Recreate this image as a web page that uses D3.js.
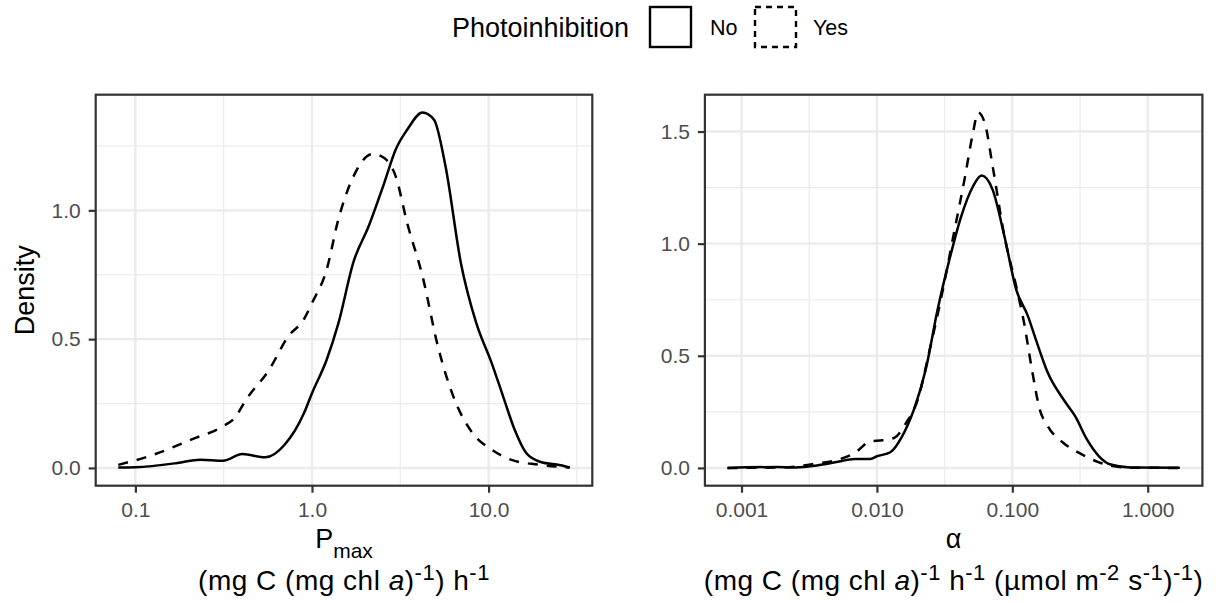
<!DOCTYPE html>
<html lang="en">
<head>
<meta charset="UTF-8">
<title>Photoinhibition density</title>
<script src="https://cdn.jsdelivr.net/npm/d3@7"></script>
<style>
  body{margin:0;background:#fff;}
  svg{display:block;font-family:"Liberation Sans",Arial,Helvetica,sans-serif;}
  .axis .domain{display:none;}
  .axis .tick line{stroke:#333;stroke-width:2.2;}
  .axis .tick text{fill:#4d4d4d;font-size:21px;}
</style>
</head>
<body>
<svg width="1216" height="603"></svg>
<script>
// ---- data ----
// Pmax panel (x in mg C (mg chl a)^-1 h^-1)
var pmaxNoX  = [0.08, 0.1, 0.1726, 0.2328, 0.314, 0.4036, 0.5445, 0.6998, 0.8974, 1.0, 1.211, 1.409, 1.718, 2.099, 2.564, 2.979, 3.459, 4.227, 4.909, 5.702, 6.966, 8.511, 10.4, 12.08, 14.03, 16.33, 19.91, 24.32, 28.8];
var pmaxNoY  = [0.002, 0.003, 0.019, 0.032, 0.028, 0.054, 0.041, 0.09, 0.21, 0.29, 0.42, 0.56, 0.80, 0.94, 1.106, 1.236, 1.313, 1.38, 1.352, 1.171, 0.796, 0.563, 0.408, 0.278, 0.149, 0.058, 0.022, 0.013, 0.002];
var pmaxYesX = [0.08, 0.1276, 0.2104, 0.314, 0.3648, 0.4236, 0.5728, 0.7345, 0.8974, 1.0, 1.211, 1.409, 1.718, 2.208, 2.564, 2.979, 3.459, 4.227, 5.164, 6.31, 8.091, 10.4, 13.34, 18.97, 28.8];
var pmaxYesY = [0.012, 0.052, 0.112, 0.162, 0.194, 0.265, 0.382, 0.511, 0.576, 0.64, 0.77, 0.964, 1.132, 1.219, 1.203, 1.132, 0.951, 0.744, 0.472, 0.278, 0.136, 0.071, 0.032, 0.013, 0.002];
var pmaxTicks = [0.1, 1, 10];

// alpha panel
var alphaNoX  = [0.000788, 0.001803, 0.002518, 0.003524, 0.00492, 0.006871, 0.008974, 0.01, 0.01256, 0.01535, 0.01875, 0.02291, 0.02805, 0.03428, 0.04188, 0.05117, 0.05929, 0.07161, 0.0875, 0.1069, 0.1306, 0.1493, 0.1828, 0.2388, 0.2917, 0.3565, 0.4365, 0.5333, 0.7447, 1.725];
var alphaNoY  = [0, 0.004, 0.002, 0.01, 0.025, 0.04, 0.04, 0.052, 0.07, 0.141, 0.26, 0.438, 0.705, 0.928, 1.121, 1.255, 1.304, 1.24, 1.032, 0.795, 0.676, 0.572, 0.424, 0.305, 0.23, 0.126, 0.052, 0.015, 0.002, 0.001];
var alphaYesX = [0.000788, 0.002, 0.003524, 0.00492, 0.006871, 0.008974, 0.01099, 0.01343, 0.0164, 0.02004, 0.02455, 0.02999, 0.03664, 0.04477, 0.05117, 0.05585, 0.06266, 0.07161, 0.0875, 0.1069, 0.1222, 0.1396, 0.1596, 0.1828, 0.2388, 0.3119, 0.4365, 0.5333, 0.7447, 1.725];
var alphaYesY = [0, 0.002, 0.019, 0.033, 0.067, 0.119, 0.123, 0.134, 0.2, 0.305, 0.528, 0.765, 1.032, 1.3, 1.493, 1.585, 1.537, 1.344, 1.032, 0.809, 0.646, 0.438, 0.26, 0.186, 0.111, 0.067, 0.025, 0.01, 0.001, 0];
var alphaTicks = [0.001, 0.01, 0.1, 1];

var densityTicks = [0, 0.5, 1.0, 1.5];
var groups = ['No', 'Yes'];

var svg = d3.select('svg');
var top0 = 94.7, bottom0 = 485.7;

function zip(xs, ys){ return xs.map(function(v, i){ return [v, ys[i]]; }); }
function expand(lo, hi){ var r = hi - lo; return [lo - 0.05 * r, hi + 0.05 * r]; }

var panels = [
  {left: 95.7, right: 592.3, ticks: pmaxTicks, fmt: d3.format('.1f'),
   series: [zip(pmaxNoX, pmaxNoY), zip(pmaxYesX, pmaxYesY)]},
  {left: 704.9, right: 1202.4, ticks: alphaTicks, fmt: d3.format('.3f'),
   series: [zip(alphaNoX, alphaNoY), zip(alphaYesX, alphaYesY)]}
];

panels.forEach(function(p){
  var all = p.series[0].concat(p.series[1]);
  var lx = expand(Math.log10(d3.min(all, function(d){return d[0];})), Math.log10(d3.max(all, function(d){return d[0];})));
  var x = d3.scaleLog().domain([Math.pow(10, lx[0]), Math.pow(10, lx[1])]).range([p.left, p.right]);
  var y = d3.scaleLinear().domain(expand(0, d3.max(all, function(d){return d[1];}))).range([bottom0, top0]);

  var xMaj = p.ticks.filter(function(t){ return t >= x.domain()[0] && t <= x.domain()[1]; });
  // minor breaks half way between majors in log space
  var xMin = [];
  for (var i = -1; i < p.ticks.length; i++) {
    var a = i < 0 ? p.ticks[0] / 10 : p.ticks[i];
    xMin.push(Math.sqrt(a * a * 10));
  }
  xMin = xMin.filter(function(t){ return t >= x.domain()[0] && t <= x.domain()[1]; });
  var yMaj = densityTicks.filter(function(t){ return t >= y.domain()[0] && t <= y.domain()[1]; });
  var yMin = densityTicks.map(function(t){ return t + 0.25; }).filter(function(t){ return t >= y.domain()[0] && t <= y.domain()[1]; });

  var g = svg.append('g');
  // grid
  g.selectAll('.gxm').data(xMin).enter().append('line')
    .attr('x1', x).attr('x2', x).attr('y1', top0).attr('y2', bottom0)
    .attr('stroke', '#ebebeb').attr('stroke-width', 1.2);
  g.selectAll('.gym').data(yMin).enter().append('line')
    .attr('y1', y).attr('y2', y).attr('x1', p.left).attr('x2', p.right)
    .attr('stroke', '#ebebeb').attr('stroke-width', 1.2);
  g.selectAll('.gx').data(xMaj).enter().append('line')
    .attr('x1', x).attr('x2', x).attr('y1', top0).attr('y2', bottom0)
    .attr('stroke', '#ebebeb').attr('stroke-width', 2.4);
  g.selectAll('.gy').data(yMaj).enter().append('line')
    .attr('y1', y).attr('y2', y).attr('x1', p.left).attr('x2', p.right)
    .attr('stroke', '#ebebeb').attr('stroke-width', 2.4);

  // density curves
  var line = d3.line().x(function(d){return x(d[0]);}).y(function(d){return y(d[1]);}).curve(d3.curveMonotoneX);
  g.selectAll('.curve').data(p.series).enter().append('path')
    .attr('d', line)
    .attr('fill', 'none')
    .attr('stroke', '#000')
    .attr('stroke-width', 2.5)
    .attr('stroke-linejoin', 'round')
    .attr('stroke-dasharray', function(d, i){ return groups[i] === 'Yes' ? '10,9' : null; });

  // border
  g.append('rect').attr('x', p.left).attr('y', top0)
    .attr('width', p.right - p.left).attr('height', bottom0 - top0)
    .attr('fill', 'none').attr('stroke', '#333').attr('stroke-width', 2.2);

  // axes
  g.append('g').attr('class', 'axis')
    .attr('transform', 'translate(0,' + bottom0 + ')')
    .call(d3.axisBottom(x).tickValues(xMaj).tickFormat(p.fmt).tickSize(7).tickPadding(9));
  g.append('g').attr('class', 'axis')
    .attr('transform', 'translate(' + p.left + ',0)')
    .call(d3.axisLeft(y).tickValues(yMaj).tickFormat(d3.format('.1f')).tickSize(7).tickPadding(8));
});

// y title
svg.append('text')
  .attr('transform', 'translate(34,' + ((top0 + bottom0) / 2) + ') rotate(-90)')
  .attr('text-anchor', 'middle').attr('font-size', 27).text('Density');

// x titles: segments of [text, kind]  n = normal, i = italic, s = superscript
function rich(x, y, size, segs){
  var t = svg.append('text').attr('x', x).attr('y', y).attr('text-anchor', 'middle')
    .attr('font-size', size).attr('letter-spacing', 0.5);
  var up = 0;
  segs.forEach(function(s){
    var dy = s[1] === 's' ? -10 - up : -up;
    up = s[1] === 's' ? -10 : 0;
    var ts = t.append('tspan').attr('dy', dy).text(s[0]);
    if (s[1] === 's') ts.attr('font-size', 22);
    if (s[1] === 'i') ts.attr('font-style', 'italic');
  });
  return t;
}
var cx1 = (panels[0].left + panels[0].right) / 2, cx2 = (panels[1].left + panels[1].right) / 2;

var t1 = svg.append('text').attr('x', cx1).attr('y', 548).attr('text-anchor', 'middle').attr('font-size', 27);
t1.append('tspan').text('P');
t1.append('tspan').attr('dy', 10).attr('font-size', 21).text('max');

rich(cx1, 590, 28, [['(mg C (mg chl ', 'n'], ['a', 'i'], [')', 'n'], ['-1', 's'], [') h', 'n'], ['-1', 's']]);

svg.append('text').attr('x', cx2).attr('y', 548).attr('text-anchor', 'middle').attr('font-size', 27).text('\u03b1');
rich(cx2, 590, 28, [['(mg C (mg chl ', 'n'], ['a', 'i'], [')', 'n'], ['-1', 's'], [' h', 'n'], ['-1', 's'],
  [' (\u00b5mol m', 'n'], ['-2', 's'], [' s', 'n'], ['-1', 's'], [')', 'n'], ['-1', 's'], [')', 'n']]);

// legend
var lg = svg.append('g');
lg.append('text').attr('x', 452).attr('y', 37).attr('font-size', 27).text('Photoinhibition');
var keyX = [650, 755], labX = [710, 813];
groups.forEach(function(k, i){
  lg.append('rect').attr('x', keyX[i]).attr('y', 7).attr('width', 41).attr('height', 40)
    .attr('fill', '#fff').attr('stroke', '#000').attr('stroke-width', 2.4)
    .attr('stroke-dasharray', k === 'Yes' ? '6,5' : null);
  lg.append('text').attr('x', labX[i]).attr('y', 35).attr('font-size', 21.5).text(k);
});
</script>
</body>
</html>
